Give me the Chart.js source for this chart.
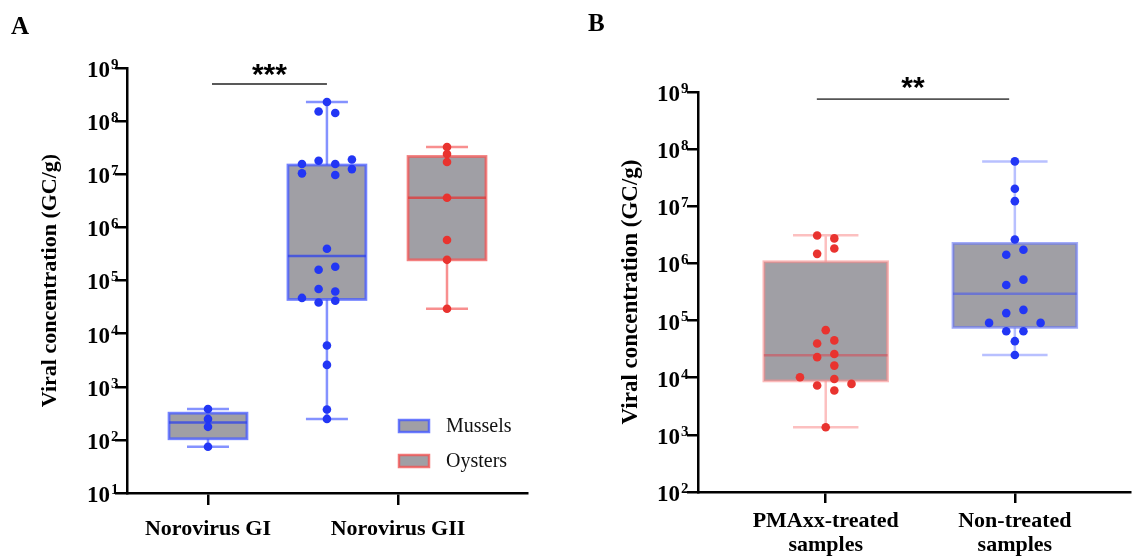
<!DOCTYPE html>
<html>
<head>
<meta charset="utf-8">
<script src="https://cdn.jsdelivr.net/npm/chart.js@4.4.1/dist/chart.umd.min.js"></script>
<style>
  html, body { margin: 0; padding: 0; background: #fff; }
  #wrap { position: relative; width: 1135px; height: 556px; overflow: hidden; }
  #cA { position: absolute; left: 0; top: 0; }
  #cB { position: absolute; left: 560px; top: 0; }
</style>
</head>
<body>
<div id="wrap">
  <canvas id="cA" width="560" height="556"></canvas>
  <canvas id="cB" width="575" height="556"></canvas>
</div>
<script>
/* ---- values ---- */
const decadesA = [1e1, 1e2, 1e3, 1e4, 1e5, 1e6, 1e7, 1e8, 1e9];
const decadesB = [1e2, 1e3, 1e4, 1e5, 1e6, 1e7, 1e8, 1e9];
const catsA = ['Norovirus GI', 'Norovirus GII'];
const catsB = [['PMAxx-treated', 'samples'], ['Non-treated', 'samples']];
const legendA = ['Mussels', 'Oysters'];

// panel A points (GC/g) and jitter columns
const giMussels = [380, 248, 176, 74];
const giiMussels = [2.29e8, 1.52e8, 1.42e8, 1.56e7, 1.8e7, 1.56e7, 1.9e7, 1.04e7, 9.7e6, 1.25e7,
  3.95e5, 1.59e5, 1.81e5, 6.9e4, 6.2e4, 4.7e4, 3.85e4, 4.15e4, 5970, 2580, 372, 248];
const giiMusselsCols = [0, -1, 1, -3, -1, 1, 3, -3, 1, 3, 0, -1, 1, -1, 1, -3, -1, 1, 0, 0, 0, 0];
const giiOysters = [3.25e7, 2.4e7, 1.7e7, 3.6e6, 5.8e5, 2.45e5, 2.93e4];

// panel B points
const pmaxx = [3.09e6, 2.74e6, 1.83e6, 1.47e6, 6.8e4, 3.96e4, 4.5e4, 2.29e4, 2.6e4, 1.63e4,
  1.02e4, 9.5e3, 7.3e3, 7.8e3, 5.96e3, 1.36e3];
const pmaxxCols = [-1, 1, 1, -1, 0, -1, 1, -1, 1, 1, -3, 1, -1, 3, 1, 0];
const nonTreated = [6.1e7, 2.03e7, 1.23e7, 2.63e6, 1.74e6, 1.42e6, 5.2e5, 4.2e5, 1.54e5, 1.35e5,
  9.1e4, 9.1e4, 6.5e4, 6.5e4, 4.36e4, 2.5e4];
const nonTreatedCols = [0, 0, 0, 0, 1, -1, 1, -1, 1, -1, -3, 3, -1, 1, 0, 0];

// box stats: [min, q1, median, q3, max]
const giMusselsBox = [74, 105, 212, 318, 380];
const giiMusselsBox = [248, 4.4e4, 2.88e5, 1.49e7, 2.29e8];
const giiOystersBox = [2.93e4, 2.45e5, 3.6e6, 2.16e7, 3.25e7];
const pmaxxBox = [1.36e3, 8.8e3, 2.48e4, 1.07e6, 3.1e6];
const nonTreatedBox = [2.5e4, 7.6e4, 2.94e5, 2.24e6, 6.1e7];

/* ---- look ---- */
const SERIF = '"Liberation Serif", "Times New Roman", serif';
const SANS = '"Liberation Sans", Arial, sans-serif';
const GREY = '#a09fa5';
const BLUE = '#2236f5';
const RED = '#e9332f';

// group positions on the x scale (category 1 and 2)
const A_GII_MUS = 1.626, A_GII_OYS = 2.258;
const stepA = 0.0438, stepB = 0.0454;

const pts = (cx, vals, cols, step) => vals.map((v, i) => ({ x: cx + (cols ? cols[i] : 0) * step, y: v }));

const boxPlugin = {
  id: 'boxes',
  beforeDatasetsDraw(chart, args, opts) {
    const { ctx, scales: { x, y } } = chart;
    opts.items.forEach(b => {
      const cx = x.getPixelForValue(b.x);
      const hw = (x.getPixelForValue(b.x + b.w / 2) - x.getPixelForValue(b.x - b.w / 2)) / 2;
      const hc = (x.getPixelForValue(b.x + b.cap / 2) - x.getPixelForValue(b.x - b.cap / 2)) / 2;
      const [lo, q1, md, q3, hi] = b.stats.map(v => y.getPixelForValue(v));
      ctx.save();
      ctx.lineWidth = 2.5;
      ctx.strokeStyle = b.whisker;
      ctx.beginPath();
      ctx.moveTo(cx, lo); ctx.lineTo(cx, q1);
      ctx.moveTo(cx, q3); ctx.lineTo(cx, hi);
      ctx.moveTo(cx - hc, lo); ctx.lineTo(cx + hc, lo);
      ctx.moveTo(cx - hc, hi); ctx.lineTo(cx + hc, hi);
      ctx.stroke();
      ctx.fillStyle = GREY;
      ctx.fillRect(cx - hw, q3, hw * 2, q1 - q3);
      ctx.strokeStyle = b.stroke;
      ctx.lineWidth = 2.8;
      ctx.strokeRect(cx - hw, q3, hw * 2, q1 - q3);
      ctx.lineWidth = 2.5;
      ctx.strokeStyle = b.median;
      ctx.beginPath(); ctx.moveTo(cx - hw, md); ctx.lineTo(cx + hw, md); ctx.stroke();
      ctx.restore();
    });
  }
};

const decoPlugin = {
  id: 'deco',
  afterDraw(chart, args, opts) {
    const { ctx, scales: { x, y } } = chart;
    ctx.save();
    // exponents next to the "10" tick labels
    const yo = y.options;
    const right = y.right - yo.grid.tickLength - yo.ticks.padding;
    ctx.fillStyle = '#000';
    ctx.font = 'bold 15px ' + SERIF;
    ctx.textAlign = 'left';
    ctx.textBaseline = 'middle';
    y.ticks.forEach(t => {
      ctx.fillText(String(Math.round(Math.log10(t.value))), right + 1, y.getPixelForValue(t.value) - 3);
    });
    // significance bar
    const s = opts.sig;
    const sy = y.getPixelForValue(s.y);
    const x1 = x.getPixelForValue(s.x1), x2 = x.getPixelForValue(s.x2);
    ctx.strokeStyle = s.color; ctx.lineWidth = 1.6;
    ctx.beginPath(); ctx.moveTo(x1, sy); ctx.lineTo(x2, sy); ctx.stroke();
    ctx.fillStyle = '#000';
    ctx.font = 'bold 30px ' + SANS;
    ctx.textAlign = 'center';
    ctx.fillText(s.text, (x1 + x2) / 2, sy - s.lift);
    // panel letter
    ctx.font = 'bold 25px ' + SERIF;
    ctx.textAlign = 'left';
    ctx.textBaseline = 'alphabetic';
    ctx.fillText(opts.letter[0], opts.letter[1], opts.letter[2]);
    // legend
    (opts.legend || []).forEach((l, i) => {
      const ly = 426 + i * 35;
      ctx.fillStyle = GREY;
      ctx.fillRect(399, ly - 6, 30, 12);
      ctx.strokeStyle = l.stroke; ctx.lineWidth = 2.5;
      ctx.strokeRect(399, ly - 6, 30, 12);
      ctx.fillStyle = '#111';
      ctx.font = '20px ' + SERIF;
      ctx.textBaseline = 'middle';
      ctx.fillText(l.text, 446, ly + 1);
    });
    ctx.restore();
  }
};

function axes(xmin, xmax, ticksX, labelsX, xh, decades, yw, titlePad, titleSize, tickPadY, labelPadX, tl) {
  const grid = { drawOnChartArea: false, drawTicks: true, tickLength: tl, color: '#000', lineWidth: 2.5 };
  return {
    x: {
      type: 'linear', min: xmin, max: xmax,
      afterBuildTicks: s => { s.ticks = ticksX.map(v => ({ value: v })); },
      afterFit: s => { s.height = xh; },
      grid: grid,
      border: { color: '#000', width: 2.5 },
      ticks: {
        callback: (v, i) => labelsX[i], color: '#000', padding: labelPadX,
        maxRotation: 0, autoSkip: false,
        font: { family: SERIF, size: 22, weight: 'bold', lineHeight: 1.1 }
      }
    },
    y: {
      type: 'logarithmic', min: decades[0], max: decades[decades.length - 1],
      afterBuildTicks: s => { s.ticks = decades.map(v => ({ value: v })); },
      afterFit: s => { s.width = yw; },
      grid: grid,
      border: { color: '#000', width: 2.5 },
      ticks: {
        callback: () => '10', color: '#000', padding: tickPadY, labelOffset: 3,
        font: { family: SERIF, size: 23, weight: 'bold' }
      },
      title: {
        display: true, text: 'Viral concentration (GC/g)', color: '#000',
        font: { family: SERIF, size: titleSize, weight: 'bold' },
        padding: { top: titlePad, bottom: 0 }
      }
    }
  };
}

const dot = (data, color) => ({ data, backgroundColor: color, borderWidth: 0, pointRadius: 4.3, pointHoverRadius: 4.3, clip: false });

new Chart(document.getElementById('cA'), {
  type: 'scatter',
  data: {
    datasets: [
      dot(pts(1, giMussels, null, stepA), BLUE),
      dot(pts(A_GII_MUS, giiMussels, giiMusselsCols, stepA), BLUE),
      dot(pts(A_GII_OYS, giiOysters, null, stepA), RED)
    ]
  },
  options: {
    responsive: false, animation: false, events: [],
    layout: { padding: { top: 68, right: 33, left: 0, bottom: 0 } },
    plugins: {
      legend: { display: false }, tooltip: { enabled: false },
      boxes: {
        items: [
          { x: 1, w: 0.41, cap: 0.221, stats: giMusselsBox, whisker: 'rgba(80,100,255,0.7)', stroke: 'rgba(70,90,255,0.75)', median: 'rgba(45,65,235,0.75)' },
          { x: A_GII_MUS, w: 0.41, cap: 0.221, stats: giiMusselsBox, whisker: 'rgba(80,100,255,0.7)', stroke: 'rgba(70,90,255,0.75)', median: 'rgba(45,65,235,0.75)' },
          { x: A_GII_OYS, w: 0.41, cap: 0.221, stats: giiOystersBox, whisker: 'rgba(245,95,95,0.7)', stroke: 'rgba(240,85,85,0.75)', median: 'rgba(225,55,55,0.75)' }
        ]
      },
      deco: {
        sig: { x1: 1.021, x2: A_GII_MUS, y: 5e8, text: '***', color: '#222', lift: 8 },
        letter: ['A', 11, 34],
        legend: [
          { text: legendA[0], stroke: 'rgba(70,90,255,0.8)' },
          { text: legendA[1], stroke: 'rgba(240,85,85,0.8)' }
        ]
      }
    },
    scales: axes(0.5737, 2.679, [1, 2], catsA, 63, decadesA, 127, 37, 22, 5, 12, 12)
  },
  plugins: [boxPlugin, decoPlugin]
});

new Chart(document.getElementById('cB'), {
  type: 'scatter',
  data: {
    datasets: [
      dot(pts(1, pmaxx, pmaxxCols, stepB), RED),
      dot(pts(2, nonTreated, nonTreatedCols, stepB), BLUE)
    ]
  },
  options: {
    responsive: false, animation: false, events: [],
    layout: { padding: { top: 92, right: 0, left: 0, bottom: 0 } },
    plugins: {
      legend: { display: false }, tooltip: { enabled: false },
      boxes: {
        items: [
          { x: 1, w: 0.654, cap: 0.346, stats: pmaxxBox, whisker: 'rgba(250,140,140,0.55)', stroke: 'rgba(250,140,140,0.6)', median: 'rgba(210,80,90,0.6)' },
          { x: 2, w: 0.654, cap: 0.346, stats: nonTreatedBox, whisker: 'rgba(125,140,255,0.55)', stroke: 'rgba(100,115,245,0.6)', median: 'rgba(80,95,230,0.65)' }
        ]
      },
      deco: {
        sig: { x1: 0.953, x2: 1.97, y: 7.5e8, text: '**', color: '#555', lift: 10 },
        letter: ['B', 28, 31]
      }
    },
    scales: axes(0.3246, 2.6126, [1, 2], catsB, 64, decadesB, 138, 57, 23, 7, 6, 11)
  },
  plugins: [boxPlugin, decoPlugin]
});
</script>
</body>
</html>
